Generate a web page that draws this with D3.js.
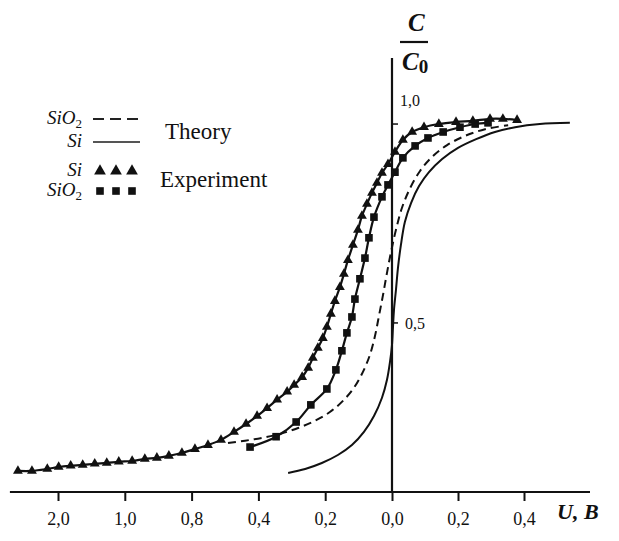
<!DOCTYPE html>
<html>
<head>
<meta charset="utf-8">
<script src="https://cdn.jsdelivr.net/npm/d3@7"></script>
<style>
  body { margin: 0; background: #fff; }
  svg text { font-family: "Liberation Serif", "DejaVu Serif", serif; fill: #111; }
</style>
</head>
<body>
<svg id="chart" width="619" height="541"></svg>
<script>
// axis ticks (voltage, left of zero is reverse bias, printed without sign)
var xTickValues = [-2.0, -1.0, -0.8, -0.4, -0.2, 0.0, 0.2, 0.4];
var xTickLabels = ["2,0", "1,0", "0,8", "0,4", "0,2", "0,0", "0,2", "0,4"];
var yTickValues = [0.5, 1.0];
var yTickLabels = ["0,5", "1,0"];

// Si experiment (triangles)
var siExpU = [-2.60, -2.39, -2.16, -1.99, -1.81, -1.63, -1.45, -1.27, -1.09, -0.978, -0.940, -0.904, -0.868, -0.829,
    -0.780, -0.702, -0.624, -0.546, -0.474, -0.408, -0.374, -0.344, -0.314, -0.293, -0.269, -0.251, -0.237, -0.222,
    -0.207, -0.195, -0.183, -0.171, -0.156, -0.144, -0.132, -0.117, -0.102, -0.090, -0.075, -0.060, -0.045, -0.030,
    -0.012, 0.009, 0.033, 0.061, 0.097, 0.142, 0.194, 0.245, 0.297, 0.336, 0.379];
var siExpC = [0.128, 0.128, 0.133, 0.138, 0.141, 0.143, 0.146, 0.148, 0.151, 0.153, 0.158, 0.161, 0.166, 0.173,
    0.183, 0.193, 0.206, 0.226, 0.246, 0.266, 0.286, 0.307, 0.327, 0.344, 0.364, 0.387, 0.412, 0.437,
    0.462, 0.490, 0.523, 0.555, 0.590, 0.623, 0.658, 0.696, 0.734, 0.769, 0.799, 0.827, 0.852, 0.877,
    0.899, 0.930, 0.960, 0.980, 0.992, 1.000, 1.005, 1.008, 1.013, 1.013, 1.010];

// SiO2 experiment (squares)
var sio2ExpU = [-0.450, -0.347, -0.287, -0.243, -0.195, -0.168, -0.150, -0.135, -0.120, -0.111, -0.096, -0.081,
    -0.069, -0.054, -0.030, -0.012, 0.009, 0.033, 0.070, 0.109, 0.155, 0.206, 0.252, 0.291];
var sio2ExpC = [0.188, 0.214, 0.251, 0.294, 0.334, 0.382, 0.430, 0.475, 0.515, 0.560, 0.611, 0.663,
    0.714, 0.766, 0.817, 0.847, 0.879, 0.915, 0.945, 0.965, 0.980, 0.992, 1.000, 1.003];

// SiO2 theory (dashed)
var sio2TheoryU = [-0.582, -0.480, -0.389, -0.335, -0.281, -0.231, -0.186, -0.147, -0.114, -0.087, -0.066, -0.051,
    -0.039, -0.027, -0.015, -0.003, 0.012, 0.030, 0.055, 0.085, 0.121, 0.167, 0.221, 0.282, 0.352];
var sio2TheoryC = [0.198, 0.204, 0.211, 0.221, 0.236, 0.254, 0.276, 0.304, 0.337, 0.377, 0.420, 0.467,
    0.518, 0.570, 0.626, 0.678, 0.734, 0.789, 0.839, 0.882, 0.917, 0.947, 0.970, 0.987, 0.997];

// Si theory (solid)
var siTheoryU = [-0.311, -0.260, -0.210, -0.162, -0.120, -0.084, -0.054, -0.030, -0.015, -0.006, 0.000, 0.003, 0.006,
    0.012, 0.018, 0.027, 0.039, 0.058, 0.082, 0.112, 0.152, 0.200, 0.255, 0.312, 0.373, 0.448, 0.539];
var siTheoryC = [0.123, 0.133, 0.148, 0.168, 0.193, 0.226, 0.266, 0.312, 0.357, 0.402, 0.445, 0.490, 0.533,
    0.583, 0.638, 0.696, 0.754, 0.802, 0.844, 0.879, 0.912, 0.940, 0.962, 0.980, 0.992, 1.000, 1.003];

var xAxisExtent = [-2.72, 0.6];
var yDomain = [0.075, 1.166];

function zip(u, c) {
    return u.map(function (d, i) { return [d, c[i]]; });
}

var svg = d3.select("#chart");

// the voltage axis is not uniform: equal spacing between printed ticks
var x = d3.scaleLinear()
    .domain(xTickValues)
    .range([58, 124.8, 191.6, 258.4, 325.2, 392, 458, 524]);

var y = d3.scaleLinear()
    .domain(yDomain)
    .range([492, 58]);

var ink = "#111";

// x axis
svg.append("line")
    .attr("x1", x(xAxisExtent[0]))
    .attr("x2", x(xAxisExtent[1]))
    .attr("y1", y(yDomain[0]))
    .attr("y2", y(yDomain[0]))
    .style("stroke", ink)
    .style("stroke-width", 2.2);

var xAxis = svg.append("g")
    .attr("transform", "translate(0," + y(yDomain[0]) + ")")
    .call(d3.axisBottom(x).tickValues(xTickValues).tickSize(9).tickSizeOuter(0)
        .tickFormat(function (d, i) { return xTickLabels[i]; }));
xAxis.select(".domain").remove();
xAxis.selectAll(".tick line").style("stroke", ink).style("stroke-width", 2);
xAxis.selectAll(".tick text")
    .attr("y", 27)
    .attr("dy", "0.32em")
    .style("font-family", "'Liberation Serif', 'DejaVu Serif', serif")
    .style("font-size", "18px")
    .style("fill", ink);

// y axis at U = 0
svg.append("line")
    .attr("x1", x(0)).attr("x2", x(0))
    .attr("y1", y(yDomain[0])).attr("y2", y(yDomain[1]))
    .style("stroke", ink)
    .style("stroke-width", 2.2);

yTickValues.forEach(function (v, i) {
    svg.append("line")
        .attr("x1", x(0)).attr("x2", x(0) + 6)
        .attr("y1", y(v)).attr("y2", y(v))
        .style("stroke", ink)
        .style("stroke-width", 1.5);
});
svg.append("text")
    .attr("x", x(0) + 13).attr("y", y(yTickValues[0]) + 6)
    .style("font-size", "16px")
    .text(yTickLabels[0]);
svg.append("text")
    .attr("x", x(0) + 8).attr("y", y(yTickValues[1]) - 18)
    .style("font-size", "16px")
    .text(yTickLabels[1]);

// axis titles
var frac = svg.append("g").attr("transform", "translate(" + (x(0) + 22) + ",0)");
frac.append("text")
    .attr("x", -6).attr("y", 31)
    .style("font-size", "25px").style("font-weight", "bold").style("font-style", "italic")
    .text("C");
frac.append("line")
    .attr("x1", -14).attr("x2", 14).attr("y1", 42).attr("y2", 42)
    .style("stroke", ink).style("stroke-width", 2.2);
var c0 = frac.append("text")
    .attr("x", -12).attr("y", 70)
    .style("font-size", "25px").style("font-weight", "bold").style("font-style", "italic");
c0.append("tspan").text("C");
c0.append("tspan").attr("dy", 3).style("font-size", "19px").style("font-style", "normal").text("0");

svg.append("text")
    .attr("x", 557).attr("y", 519)
    .style("font-size", "22px").style("font-weight", "bold").style("font-style", "italic")
    .text("U, B");

// curves
var line = d3.line()
    .x(function (d) { return x(d[0]); })
    .y(function (d) { return y(d[1]); })
    .curve(d3.curveCatmullRom.alpha(0.5));

svg.append("path")
    .datum(zip(siTheoryU, siTheoryC))
    .attr("d", line)
    .style("fill", "none").style("stroke", ink).style("stroke-width", 2);

svg.append("path")
    .datum(zip(sio2TheoryU, sio2TheoryC))
    .attr("d", line)
    .style("fill", "none").style("stroke", ink).style("stroke-width", 2)
    .style("stroke-dasharray", "8,5");

svg.append("path")
    .datum(zip(sio2ExpU, sio2ExpC))
    .attr("d", line)
    .style("fill", "none").style("stroke", ink).style("stroke-width", 2.2);

svg.append("path")
    .datum(zip(siExpU, siExpC))
    .attr("d", line)
    .style("fill", "none").style("stroke", ink).style("stroke-width", 2.2);

var tri = d3.symbol().type(d3.symbolTriangle).size(42);
var sq = d3.symbol().type(d3.symbolSquare).size(58);

svg.append("g").selectAll("path")
    .data(zip(sio2ExpU, sio2ExpC))
    .join("path")
    .attr("d", sq)
    .attr("transform", function (d) { return "translate(" + x(d[0]) + "," + y(d[1]) + ")"; })
    .style("fill", ink);

svg.append("g").selectAll("path")
    .data(zip(siExpU, siExpC))
    .join("path")
    .attr("d", tri)
    .attr("transform", function (d) { return "translate(" + x(d[0]) + "," + y(d[1]) + ")"; })
    .style("fill", ink);

// legend
var legend = svg.append("g");
var rows = [
    { name: "SiO", sub: "2", y: 124, kind: "dash" },
    { name: "Si", sub: "", y: 147, kind: "solid" },
    { name: "Si", sub: "", y: 176, kind: "tri" },
    { name: "SiO", sub: "2", y: 196, kind: "sq" }
];
rows.forEach(function (r) {
    var t = legend.append("text")
        .attr("x", 82).attr("y", r.y)
        .attr("text-anchor", "end")
        .style("font-size", "19px").style("font-style", "italic");
    t.append("tspan").text(r.name);
    if (r.sub) t.append("tspan").attr("dy", 4).style("font-size", "13px").style("font-style", "normal").text(r.sub);

    var cy = r.y - 5;
    if (r.kind == "dash" || r.kind == "solid") {
        legend.append("line")
            .attr("x1", 93).attr("x2", 140).attr("y1", cy).attr("y2", cy)
            .style("stroke", r.kind == "dash" ? "#222" : "#555")
            .style("stroke-width", 2)
            .style("stroke-dasharray", r.kind == "dash" ? "11,6" : null);
    } else {
        [100, 116, 132].forEach(function (px) {
            legend.append("path")
                .attr("d", r.kind == "tri" ? d3.symbol().type(d3.symbolTriangle).size(60)() : d3.symbol().type(d3.symbolSquare).size(58)())
                .attr("transform", "translate(" + px + "," + cy + ")")
                .style("fill", ink);
        });
    }
});
legend.append("text").attr("x", 165).attr("y", 139).style("font-size", "23px").text("Theory");
legend.append("text").attr("x", 160).attr("y", 187).style("font-size", "23px").text("Experiment");
</script>
</body>
</html>
